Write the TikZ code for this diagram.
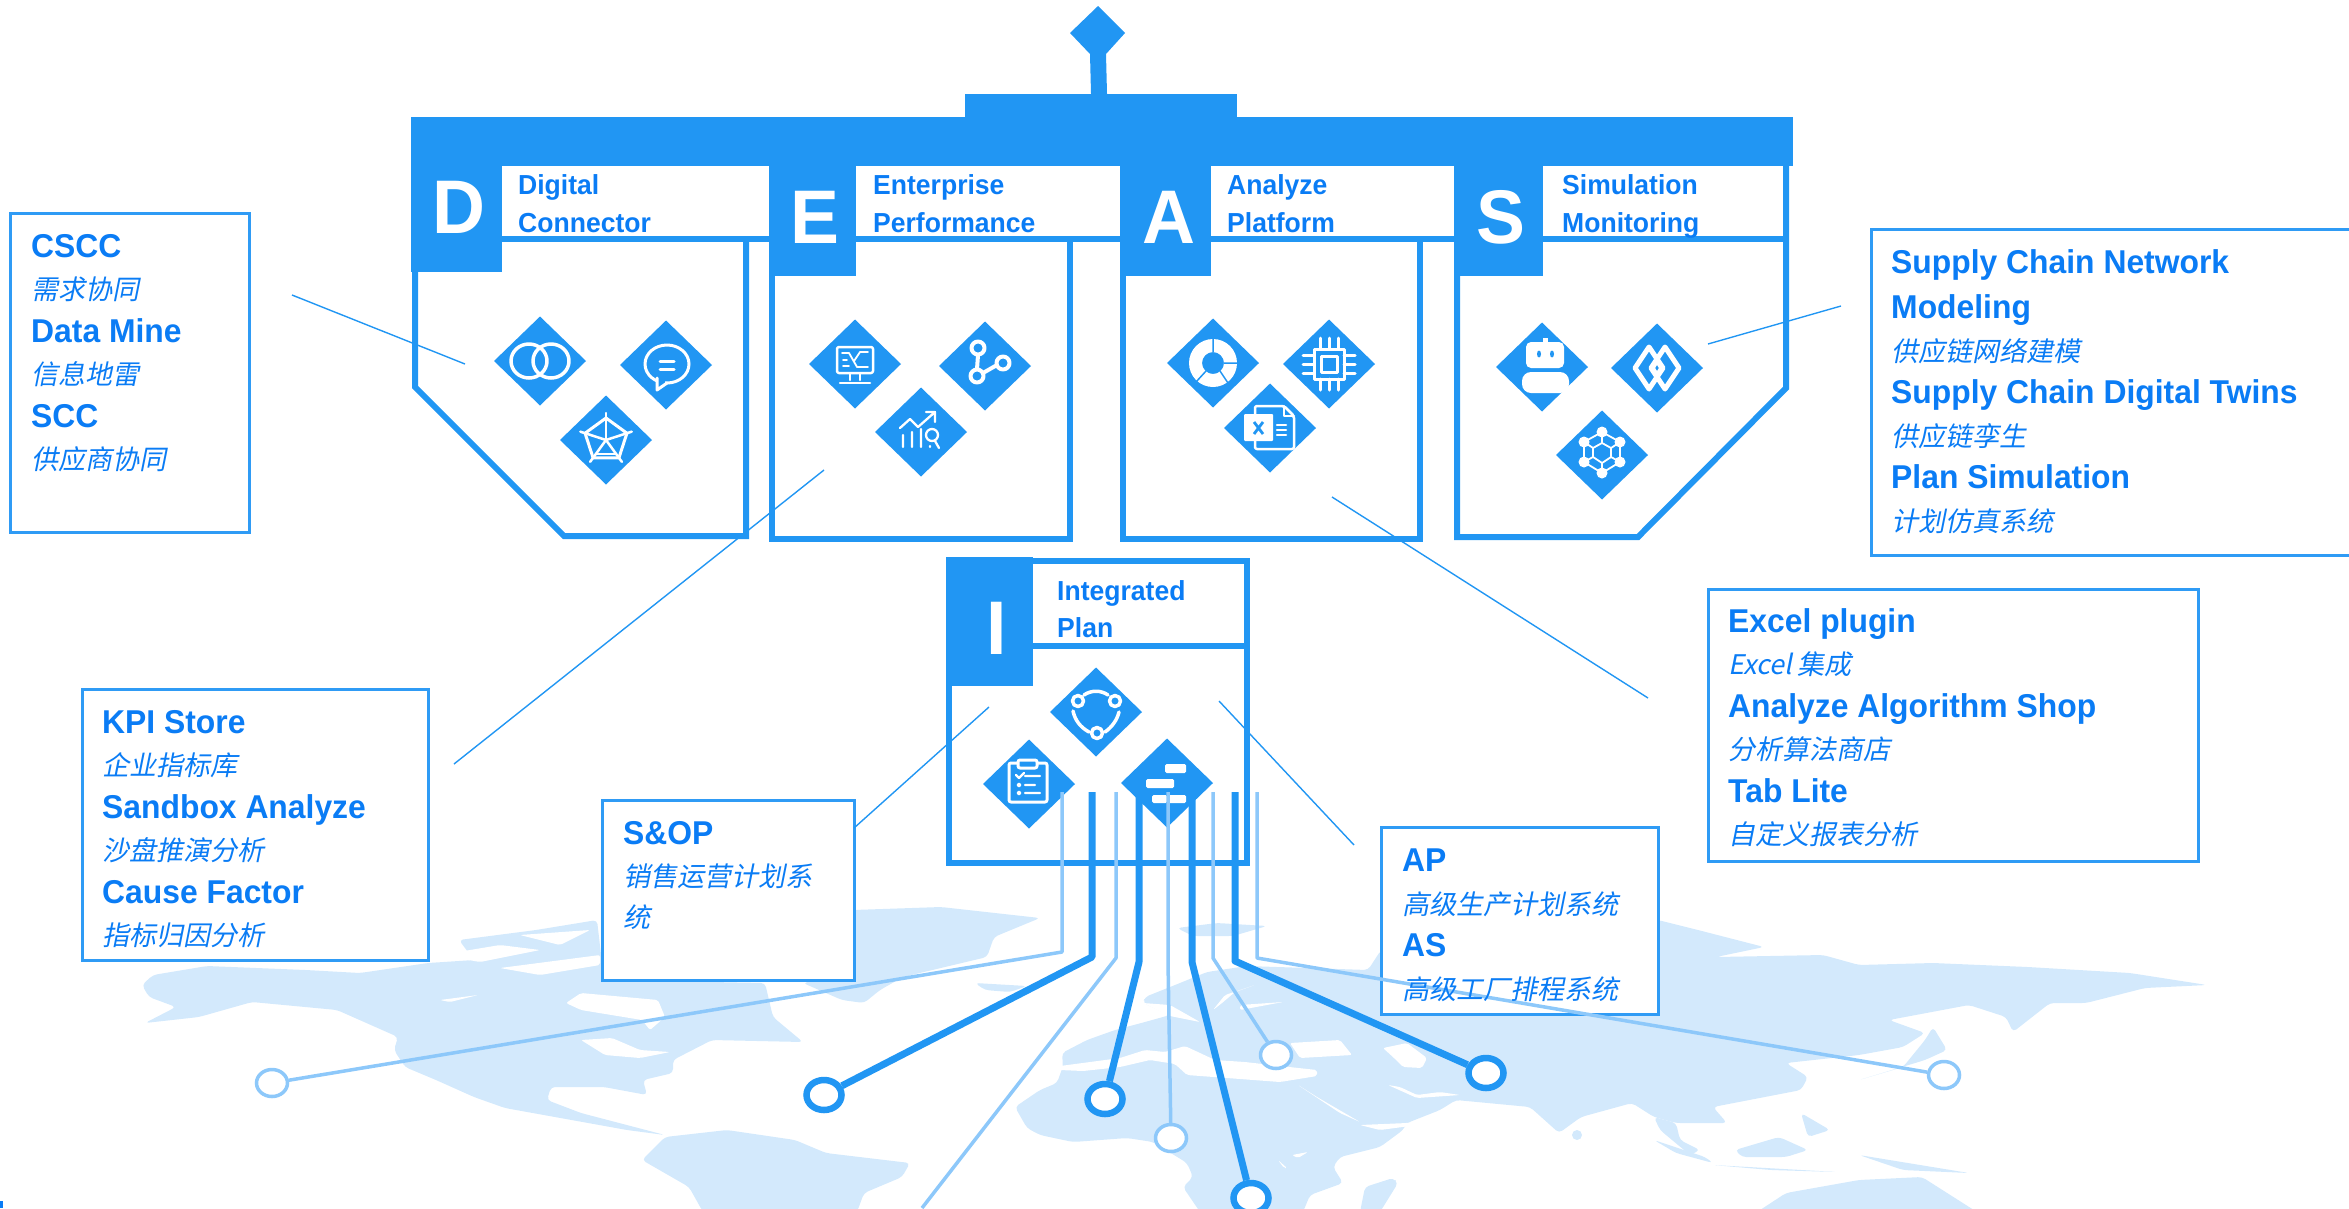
\documentclass[tikz,border=0pt]{standalone}
\usepackage{fontspec}
\setmainfont{Liberation Sans}[FakeStretch=0.965]
\newfontfamily\cjk[FakeSlant=0.2]{Noto Sans CJK SC}
\usetikzlibrary{shapes.geometric}
\definecolor{mainblue}{HTML}{2196F3}
\definecolor{boxblue}{HTML}{2F9BF5}
\definecolor{textblue}{HTML}{0A7CF5}
\definecolor{lightblue}{HTML}{8DC8FA}
\definecolor{mapblue}{HTML}{D3E9FC}
\newcommand{\hdline}[1]{{\bfseries #1}}
\newcommand{\zhline}[1]{{\cjk\fontsize{27}{42.5}\selectfont #1}}
\tikzset{
	panel/.style={draw=mainblue,line width=6pt,miter limit=10},
	gem/.style={diamond,aspect=1,fill=mainblue,minimum width=92,minimum height=89,inner sep=0pt,outer sep=0pt},
	bigletter/.style={text=white,font=\fontsize{76}{76}\selectfont\bfseries,inner sep=0pt},
	titletext/.style={text=textblue,anchor=north west,inner sep=0pt,align=left,font=\fontsize{27.5}{38}\selectfont\bfseries},
	notebox/.style={draw=boxblue,line width=3pt,fill=white,anchor=north west,outer sep=0pt,inner sep=0pt},
	notetext/.style={text=textblue,anchor=north west,inner sep=0pt,align=left,font=\fontsize{33}{42.5}\selectfont},
	leader/.style={draw=mainblue,line width=1.4pt},
	busdark/.style={draw=mainblue,line width=7pt,line join=round},
	buslight/.style={draw=lightblue,line width=3.5pt,line join=round},
	ringdark/.style={ellipse,draw=mainblue,line width=6.5pt,fill=white,minimum width=35,minimum height=30,inner sep=0pt},
	ringlight/.style={ellipse,draw=lightblue,line width=3.5pt,fill=white,minimum width=31,minimum height=27,inner sep=0pt},
	mapland/.style={fill=mapblue,rounded corners=4pt},
	mapsea/.style={fill=white,rounded corners=2pt},
	icon/.style={draw=white,line width=3pt,line cap=round,line join=round},
	iconrings/.pic={\draw[icon,line width=3.5pt] (-11,0) ellipse (18pt and 17pt) (11,0) ellipse (18pt and 17pt);},
	iconchat/.pic={
		\draw[icon] (1,-1) ellipse (22pt and 19pt);
		\fill[mainblue] (-9,14) rectangle (-1,21);
		\draw[icon] (-9,13) -- (-9,25) -- (1,18);
		\draw[icon] (-6,-4) -- (8,-4) (-6,4) -- (8,4);},
	iconradar/.pic={
		\draw[icon] (-90:22) -- (-18:22) -- (54:22) -- (126:22) -- (198:22) -- cycle;
		\foreach \a in {-90,-18,54,126,198} \draw[icon,line width=2.5pt] (0,0) -- (\a:27);
		\draw[icon,line width=2.5pt] (-9,14) -- (9,14);},
	iconscreen/.pic={
		\draw[icon,rounded corners=2pt,line width=2.5pt] (-18,-17) rectangle (18,9);
		\draw[icon,line width=1.8pt] (-13,-11) -- (-6,-11) -- (2,3) -- (13,3) (13,-12) -- (5,-12) -- (-1,-3) (-12,2) -- (-6,2) (-12,-4) -- (-8,-4);
		\draw[icon,line width=2.5pt] (-5,10) -- (-5,16) (5,10) -- (5,16) (-15,19) -- (15,19);},
	iconhubs/.pic={
		\draw[icon,line width=4pt] (-7,-18) circle (6.5) (-8,10) circle (6.5) (18,-3) circle (6.5) (-7,-11) -- (-8,3) (-2,7) -- (12,-1);},
	icontrend/.pic={
		\draw[icon,line width=2.3pt] (-18,3) -- (-18,15) (-9,0) -- (-9,15) (0,-3) -- (0,15) (-21,-4) -- (-11,-13) -- (-3,-5) -- (14,-20) (5,-20) -- (14,-20) -- (14,-10);
		\draw[icon,line width=2.3pt] (11,3) circle (6) (14,9) -- (18,16) (9,14) -- (9,15);},
	icondonut/.pic={
		\fill[white,even odd rule] (0,0) circle (24) circle (11);
		\draw[mainblue,line width=1.5pt] (0,-24) -- (0,-11) (11,0) -- (24,0) (-7,8) -- (-17,19) (7,8) -- (15,20);},
	iconchip/.pic={
		\draw[icon] (-15,-15) rectangle (15,15) (-8,-8) rectangle (8,8);
		\foreach \p in {-9,0,9} \draw[icon] (\p,-26) -- (\p,-15) (\p,15) -- (\p,26) (-26,\p) -- (-15,\p) (15,\p) -- (26,\p);},
	iconsheet/.pic={
		\draw[icon,line width=2.5pt,rounded corners=2pt] (-15,-10) -- (-15,-22) -- (14,-22) -- (24,-12) -- (24,21) -- (-15,21) -- (-15,13);
		\draw[icon,line width=2.5pt] (14,-22) -- (14,-12) -- (24,-12) (7,-3) -- (16,-3) (7,2) -- (16,2) (7,7) -- (16,7);
		\fill[white,rounded corners=1pt] (-26,-14) rectangle (3,13);
		\draw[mainblue,line width=2.8pt] (-16,-6) -- (-7,6) (-7,-6) -- (-16,6);},
	iconrobot/.pic={
		\fill[white,rounded corners=5pt] (-16,-25) rectangle (22,1);
		\fill[white] (1,-29) rectangle (6,-24);
		\fill[mainblue] (-3,-13) ellipse (2pt and 3.5pt) (10,-13) ellipse (2pt and 3.5pt);
		\fill[white,rounded corners=9pt] (-20,5) rectangle (27,26);},
	iconweave/.pic={
		\draw[icon,line width=5pt] (-8,-21) -- (-22,0) -- (-8,21) -- (6,0) -- cycle (8,-21) -- (22,0) -- (8,21) -- (-6,0) -- cycle;
		\draw[icon,line width=2pt] (0,-5) -- (3,0) -- (0,5) -- (-3,0) -- cycle;},
	iconlattice/.pic={
		\draw[icon,line width=1.8pt] (0,-23) -- (18,-13) -- (18,7) -- (0,18) -- (-18,7) -- (-18,-13) -- cycle;
		\draw[icon,line width=1.8pt] (0,-12) -- (9,-7) -- (9,2) -- (0,8) -- (-9,2) -- (-9,-7) -- cycle (0,-23) -- (0,-12) (18,-13) -- (9,-7) (18,7) -- (9,2) (0,18) -- (0,8) (-18,7) -- (-9,2) (-18,-13) -- (-9,-7);
		\fill[white] (0,-23) circle (5.5) (18,-13) circle (5.5) (18,7) circle (5.5) (0,18) circle (5.5) (-18,7) circle (5.5) (-18,-13) circle (5.5);},
	iconcycle/.pic={
		\draw[icon,line width=3.5pt] (-18,-11) circle (5.5) (19,-11) circle (5.5) (1,21) circle (5.5) (-12,-17) .. controls (-5,-22) and (5,-22) .. (12,-17) (-23,-1) .. controls (-21,8) and (-16,15) .. (-7,20) (23,0) .. controls (21,8) and (16,15) .. (9,20);},
	iconclip/.pic={
		\draw[icon,rounded corners=2pt] (-12,-21) -- (-20,-21) -- (-20,18) -- (18,18) -- (18,-21) -- (9,-21);
		\draw[icon,rounded corners=2pt] (-11,-24) rectangle (8,-16);
		\draw[icon,line width=2.3pt] (-13,-9) -- (-10,-6) -- (-5,-11) (-4,-8) -- (11,-8) (-4,1) -- (6,1) (-4,9) -- (11,9);
		\draw[icon,line width=2pt] (-10,1) circle (1.5) (-10,9) circle (1.5);},
	icongantt/.pic={
		\fill[white,rounded corners=1.5pt] (-2,-19) rectangle (19,-10) (-21,-4) rectangle (7,5) (-15,12) rectangle (0,20) (1,12) rectangle (19,20);},
}
\begin{document}
\begin{tikzpicture}[x=1pt,y=-1pt,line join=miter]
	\useasboundingbox (0,0) rectangle (2349,1208);
	\clip (0,0) rectangle (2349,1208);
	%map
	\path[mapland] (142,985)--(153,975)--(207,966)--(306,970)--(360,973)--(428,963)--(474,960)--(459,940)--(536,930)--(597,920)--(604,980)--(765,983)--(773,1017)--(803,1042)--(712,1040)--(673,1060)--(673,1073)--(643,1080)--(647,1095)--(604,1087)--(551,1087)--(547,1100)--(581,1113)--(665,1135)--(627,1130)--(505,1108)--(474,1097)--(436,1080)--(405,1067)--(394,1050)--(398,1037)--(337,1010)--(252,1002)--(199,1017)--(145,1023)--(176,1007)--(149,997)--cycle;
	\path[mapland] (665,1137)--(727,1130)--(795,1140)--(826,1153)--(910,1163)--(902,1177)--(864,1193)--(857,1212)--(703,1212)--(689,1187)--(642,1160)--cycle;
	\path[mapland] (853,910)--(941,907)--(1040,918)--(994,937)--(987,957)--(903,977)--(880,990)--(864,1003)--(842,1000)--(803,983)--(853,973)--cycle;
	\path[mapland] (1177,928)--(1217,923)--(1267,926)--(1233,936)--(1193,936)--cycle;
	\path[mapland] (975,983)--(1027,986)--(1010,992)--(985,990)--cycle;
	%eurasia and africa
	\path[mapland] (1062,1053)--(1087,1040)--(1115,1030)--(1145,1022)--(1170,1015)--(1143,1003)--(1145,997)--(1175,985)--(1207,972)--(1247,966)--(1368,970)--(1381,950)--(1658,920)--(1698,930)--(1764,947)--(1716,957)--(1823,955)--(1859,965)--(1933,963)--(2028,967)--(2130,973)--(2207,985)--(2145,988)--(2086,1003)--(2050,1003)--(2013,1032)--(2006,1017)--(1969,1005)--(1889,1020)--(1925,1033)--(1903,1047)--(1859,1055)--(1786,1063)--(1808,1077)--(1801,1090)--(1713,1107)--(1727,1123)--(1676,1123)--(1654,1117)--(1632,1103)--(1581,1117)--(1559,1133)--(1530,1107)--(1456,1100)--(1440,1110)--(1407,1123)--(1403,1130)--(1380,1147)--(1340,1157)--(1333,1167)--(1343,1183)--(1310,1195)--(1303,1212)--(1200,1212)--(1183,1187)--(1193,1177)--(1187,1163)--(1153,1142)--(1127,1138)--(1073,1142)--(1040,1135)--(1027,1128)--(1015,1107)--(1040,1090)--(1057,1083)--(1063,1066)--cycle;
	\path[mapland] (1360,1212)--(1365,1187)--(1393,1178)--(1398,1183)--(1380,1212)--cycle;
	\path[mapland] (1654,1117)--(1676,1123)--(1680,1140)--(1700,1150)--(1690,1155)--(1660,1130)--cycle;
	\path[mapland] (1735,1150)--(1779,1137)--(1808,1150)--(1786,1157)--(1742,1157)--cycle;
	\path[mapland] (1801,1113)--(1830,1130)--(1808,1137)--cycle;
	\path[mapland] (1654,1140)--(1705,1157)--(1713,1163)--(1676,1153)--cycle;
	\path[mapland] (1713,1165)--(1837,1172)--(1771,1170)--cycle;
	\path[mapland] (1859,1155)--(1969,1173)--(1903,1170)--cycle;
	\path[mapland] (1757,1212)--(1786,1193)--(1859,1180)--(1922,1177)--(1977,1212)--cycle;
	\path[mapland] (1859,1080)--(1925,1060)--(1947,1050)--(1933,1027)--(1925,1040)--(1903,1067)--cycle;
	\fill[mapblue] (1577,1135) circle (5);
	%seas
	\path[mapsea] (566,1003)--(581,993)--(658,1000)--(665,1017)--(650,1030)--(642,1020)--(581,1010)--cycle;
	\path[mapsea] (581,1040)--(612,1038)--(640,1050)--(670,1052)--(640,1058)--(605,1055)--cycle;
	\path[mapsea] (440,955)--(500,945)--(540,950)--(480,962)--cycle;
	\path[mapsea] (520,935)--(590,930)--(560,945)--cycle;
	\path[mapsea] (500,968)--(600,955)--(600,965)--(540,975)--cycle;
	\path[mapsea] (440,1000)--(478,995)--(450,1002)--cycle;
	\path[mapsea] (1060,1066)--(1120,1058)--(1145,1050)--(1165,1052)--(1185,1046)--(1215,1060)--(1245,1062)--(1280,1066)--(1317,1070)--(1317,1076)--(1280,1082)--(1227,1078)--(1187,1075)--(1175,1064)--(1150,1060)--(1120,1067)--(1083,1071)--(1060,1070)--cycle;
	\path[mapsea] (1290,1043)--(1340,1040)--(1352,1055)--(1300,1058)--cycle;
	\path[mapsea] (1383,1048)--(1407,1043)--(1427,1058)--(1422,1068)--(1403,1067)--(1393,1057)--cycle;
	\path[mapsea] (1388,1085)--(1400,1087)--(1417,1095)--(1440,1092)--(1460,1095)--(1417,1098)--cycle;
	\path[mapsea] (1298,1085)--(1317,1097)--(1360,1122)--(1340,1113)--cycle;
	\path[mapsea] (1360,1125)--(1407,1123)--(1460,1113)--(1440,1122)--(1380,1130)--cycle;
	\path[mapsea] (1213,1010)--(1225,995)--(1255,985)--(1235,992)--(1222,1003)--cycle;
	\path[mapsea] (1240,1005)--(1283,1002)--(1240,1010)--cycle;
	\path[mapsea] (1143,1003)--(1170,1005)--(1200,1022)--(1170,1016)--cycle;
	\path[mapsea] (1292,1155)--(1308,1152)--(1298,1158)--cycle;
	\path[mapsea] (1278,1160)--(1287,1168)--(1284,1168)--cycle;
	%boxes
	\node[notebox,minimum width=239,minimum height=319] (csccbox) at (10,213) {};
	\node[notebox,minimum width=499,minimum height=326] (supplybox) at (1871,229) {};
	\node[notebox,minimum width=490,minimum height=272] (excelbox) at (1708,589) {};
	\node[notebox,minimum width=346,minimum height=271] (kpibox) at (82,689) {};
	\node[notebox,minimum width=252,minimum height=180] (sopbox) at (602,800) {};
	\node[notebox,minimum width=277,minimum height=187] (apbox) at (1381,827) {};
	%top bar
	\fill[mainblue] (1098,6) -- (1125,33) -- (1106,54) -- (1107,94) -- (1091,94) -- (1090,54) -- (1070,33) -- cycle;
	\fill[mainblue] (965,94) rectangle (1237,117);
	\fill[mainblue] (411,117) rectangle (1793,166);
	\foreach \xa/\xb/\yb in {411/502/272,769/856/276,1120/1211/276,1454/1543/276,946/1033/686}
		\fill[mainblue] (\xa,{\xa==946 ? 557 : 117}) rectangle (\xb,\yb);
	%panels
	\draw[panel] (415,270) -- (415,387) -- (564,536) -- (746,536) -- (746,239);
	\draw[panel] (772,270) -- (772,539) -- (1070,539) -- (1070,239);
	\draw[panel] (1123,270) -- (1123,539) -- (1420,539) -- (1420,239);
	\draw[panel] (1457,270) -- (1457,537) -- (1638,537) -- (1786,388) -- (1786,160);
	\draw[panel] (949,560.5) rectangle (1247,863);
	\draw[panel] (502,239) -- (769,239) (856,239) -- (1122,239) (1211,239) -- (1456,239) (1543,239) -- (1789,239) (1033,646) -- (1247,646);
	%letters
	\node[bigletter] (letterd) at (459,207) {D};
	\node[bigletter] (lettere) at (815,217) {E};
	\node[bigletter] (lettera) at (1169,217) {A};
	\node[bigletter] (letters) at (1501,217) {S};
	\node[bigletter] (letteri) at (997,628) {I};
	\node[titletext] (titled) at (518,174) {Digital\\Connector};
	\node[titletext] (titlee) at (873,174) {Enterprise\\Performance};
	\node[titletext] (titlea) at (1227,174) {Analyze\\Platform};
	\node[titletext] (titles) at (1562,174) {Simulation\\Monitoring};
	\node[titletext,font=\fontsize{27.5}{37}\selectfont\bfseries] (titlei) at (1057,580) {Integrated\\Plan};
	%icons
	\foreach \name/\x/\y in {rings/540/361,chat/666/365,radar/606/440,screen/855/364,hubs/985/366,trend/921/432,donut/1213/363,chip/1329/364,sheet/1270/428,robot/1542/367,weave/1657/368,lattice/1602/455,cycle/1096/712,clip/1029/784,gantt/1167/783}{
		\node[gem] (gem\name) at (\x,\y) {};
		\pic at (gem\name) {icon\name};
	}
	%leaders
	\coordinate (csccfrom) at (292,295); \coordinate (csccto) at (465,364);
	\coordinate (kpifrom) at (454,764); \coordinate (kpito) at (824,470);
	\coordinate (sopfrom) at (854,828); \coordinate (sopto) at (989,707);
	\coordinate (apfrom) at (1354,845); \coordinate (apto) at (1219,701);
	\coordinate (excelfrom) at (1648,698); \coordinate (excelto) at (1332,497);
	\coordinate (supplyfrom) at (1841,306); \coordinate (supplyto) at (1708,344);
	\foreach \name in {cscc,kpi,sop,ap,excel,supply}
		\draw[leader] (\name from) -- (\name to);
	%rings and lines
	\node[ringdark] (ringa) at (824,1095) {};
	\node[ringdark] (ringb) at (1105,1099) {};
	\node[ringdark] (ringc) at (1251,1198) {};
	\node[ringdark] (ringd) at (1486,1073) {};
	\node[ringlight] (ringe) at (272,1083) {};
	\node[ringlight] (ringf) at (1171,1138) {};
	\node[ringlight] (ringg) at (1276,1055) {};
	\node[ringlight] (ringh) at (1944,1075) {};
	\coordinate (edgeend) at (922,1208);
	\foreach \x/\yk/\target in {1062/952/ringe,1116/958/edgeend,1168/962/ringf,1213/958/ringg,1257/958/ringh}
		\draw[buslight] (\x,792) coordinate (top\target) -- (\x,\yk) coordinate (knee\target) -- (\target);
	\foreach \x/\yk/\target in {1092/957/ringa,1139/962/ringb,1192/962/ringc,1235/961/ringd}
		\draw[busdark] (\x,792) coordinate (top\target) -- (\x,\yk) coordinate (knee\target) -- (\target);
	%texts of the boxes
	\node[notetext] (cscctext) at ([shift={(21,21)}]csccbox.north west) {\hdline{CSCC}\\\zhline{需求协同}\\\hdline{Data Mine}\\\zhline{信息地雷}\\\hdline{SCC}\\\zhline{供应商协同}};
	\node[notetext] (supplytext) at ([shift={(20,20)}]supplybox.north west) {\hdline{Supply Chain Network}\\[3pt]\hdline{Modeling}\\\zhline{供应链网络建模}\\\hdline{Supply Chain Digital Twins}\\\zhline{供应链孪生}\\\hdline{Plan Simulation}\\\zhline{计划仿真系统}};
	\node[notetext] (exceltext) at ([shift={(20,19)}]excelbox.north west) {\hdline{Excel plugin}\\\zhline{Excel 集成}\\\hdline{Analyze Algorithm Shop}\\\zhline{分析算法商店}\\\hdline{Tab Lite}\\\zhline{自定义报表分析}};
	\node[notetext] (kpitext) at ([shift={(20,21)}]kpibox.north west) {\hdline{KPI Store}\\\zhline{企业指标库}\\\hdline{Sandbox Analyze}\\\zhline{沙盘推演分析}\\\hdline{Cause Factor}\\\zhline{指标归因分析}};
	\node[notetext] (soptext) at ([shift={(21,21)}]sopbox.north west) {\hdline{S\&OP}\\\zhline{销售运营计划系}\\[-2pt]\zhline{统}};
	\node[notetext] (aptext) at ([shift={(21,22)}]apbox.north west) {\hdline{AP}\\\zhline{高级生产计划系统}\\\hdline{AS}\\\zhline{高级工厂排程系统}};
	\fill[textblue] (0,1201) rectangle (3,1208);
\end{tikzpicture}
\end{document}
